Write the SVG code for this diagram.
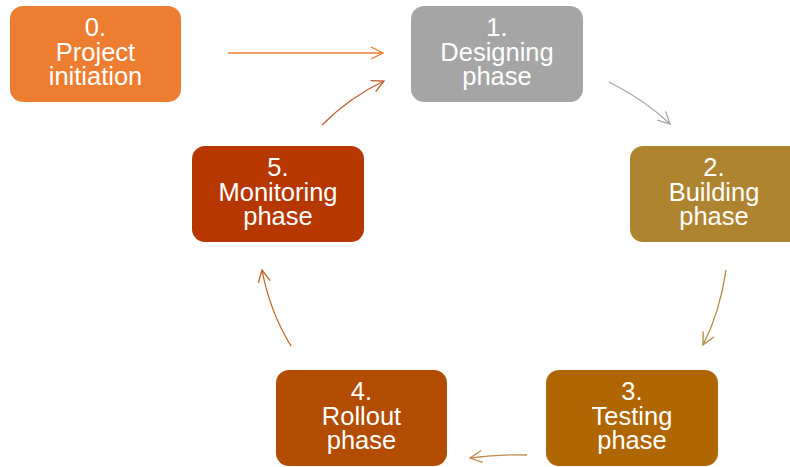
<svg xmlns="http://www.w3.org/2000/svg" width="790" height="467" viewBox="0 0 790 467">
  <style>
    .box { stroke: none; }
    .lbl { font-family: "Liberation Sans", Arial, sans-serif; font-size: 25.5px; fill: #ffffff; text-anchor: middle; }
    .conn { fill: none; stroke-width: 1.3; }
  </style>
  <defs>
    <marker id="a0" viewBox="0 0 14 14" refX="13" refY="7" markerWidth="14" markerHeight="14" markerUnits="userSpaceOnUse" orient="auto"><path d="M1,1 L13,7 L1,13" fill="none" stroke="#ED7D31" stroke-width="1.3"/></marker>
    <marker id="a1" viewBox="0 0 14 14" refX="13" refY="7" markerWidth="14" markerHeight="14" markerUnits="userSpaceOnUse" orient="auto"><path d="M1,1 L13,7 L1,13" fill="none" stroke="#A5A5A5" stroke-width="1.3"/></marker>
    <marker id="a2" viewBox="0 0 14 14" refX="13" refY="7" markerWidth="14" markerHeight="14" markerUnits="userSpaceOnUse" orient="auto"><path d="M1,1 L13,7 L1,13" fill="none" stroke="#B08A40" stroke-width="1.3"/></marker>
    <marker id="a3" viewBox="0 0 14 14" refX="13" refY="7" markerWidth="14" markerHeight="14" markerUnits="userSpaceOnUse" orient="auto"><path d="M1,1 L13,7 L1,13" fill="none" stroke="#C08A4A" stroke-width="1.3"/></marker>
    <marker id="a4" viewBox="0 0 14 14" refX="13" refY="7" markerWidth="14" markerHeight="14" markerUnits="userSpaceOnUse" orient="auto"><path d="M1,1 L13,7 L1,13" fill="none" stroke="#C0662A" stroke-width="1.3"/></marker>
    <marker id="a5" viewBox="0 0 14 14" refX="13" refY="7" markerWidth="14" markerHeight="14" markerUnits="userSpaceOnUse" orient="auto"><path d="M1,1 L13,7 L1,13" fill="none" stroke="#C05A30" stroke-width="1.3"/></marker>
  </defs>

  <g id="connectors">
    <path class="conn" stroke="#ED7D31" d="M228,53 L383,53" marker-end="url(#a0)"/>
    <path class="conn" stroke="#A5A5A5" d="M609,82 Q645,100 670,124" marker-end="url(#a1)"/>
    <path class="conn" stroke="#B08A40" d="M726,270 Q720,312 703,345" marker-end="url(#a2)"/>
    <path class="conn" stroke="#C08A4A" d="M527,455 Q500,454 470,458" marker-end="url(#a3)"/>
    <path class="conn" stroke="#C0662A" d="M291,346 Q270,312 262,270" marker-end="url(#a4)"/>
    <path class="conn" stroke="#C05A30" d="M322,125 Q350,97 384,81" marker-end="url(#a5)"/>
  </g>

  <g id="node0">
    <rect class="box" x="10" y="6" width="171" height="96" rx="13" fill="#ED7D31"/>
    <text class="lbl" x="95.5" y="36">0.</text>
    <text class="lbl" x="95.5" y="61">Project</text>
    <text class="lbl" x="95.5" y="85">initiation</text>
  </g>
  <g id="node1">
    <rect class="box" x="411" y="6" width="172" height="96" rx="13" fill="#A5A5A5"/>
    <text class="lbl" x="497" y="36">1.</text>
    <text class="lbl" x="497" y="61">Designing</text>
    <text class="lbl" x="497" y="85">phase</text>
  </g>
  <g id="node2">
    <rect class="box" x="630" y="146" width="172" height="96" rx="13" fill="#AF8430"/>
    <text class="lbl" x="714" y="176">2.</text>
    <text class="lbl" x="714" y="201">Building</text>
    <text class="lbl" x="714" y="225">phase</text>
  </g>
  <g id="node3">
    <rect class="box" x="546" y="370" width="172" height="96" rx="13" fill="#AF6500"/>
    <text class="lbl" x="632" y="400">3.</text>
    <text class="lbl" x="632" y="425">Testing</text>
    <text class="lbl" x="632" y="449">phase</text>
  </g>
  <g id="node4">
    <rect class="box" x="276" y="370" width="171" height="96" rx="13" fill="#B24C00"/>
    <text class="lbl" x="361.5" y="400">4.</text>
    <text class="lbl" x="361.5" y="425">Rollout</text>
    <text class="lbl" x="361.5" y="449">phase</text>
  </g>
  <g id="node5">
    <rect class="box" x="192" y="146" width="172" height="96" rx="13" fill="#B63700"/>
    <text class="lbl" x="278" y="176">5.</text>
    <text class="lbl" x="278" y="201">Monitoring</text>
    <text class="lbl" x="278" y="225">phase</text>
  </g>
</svg>
